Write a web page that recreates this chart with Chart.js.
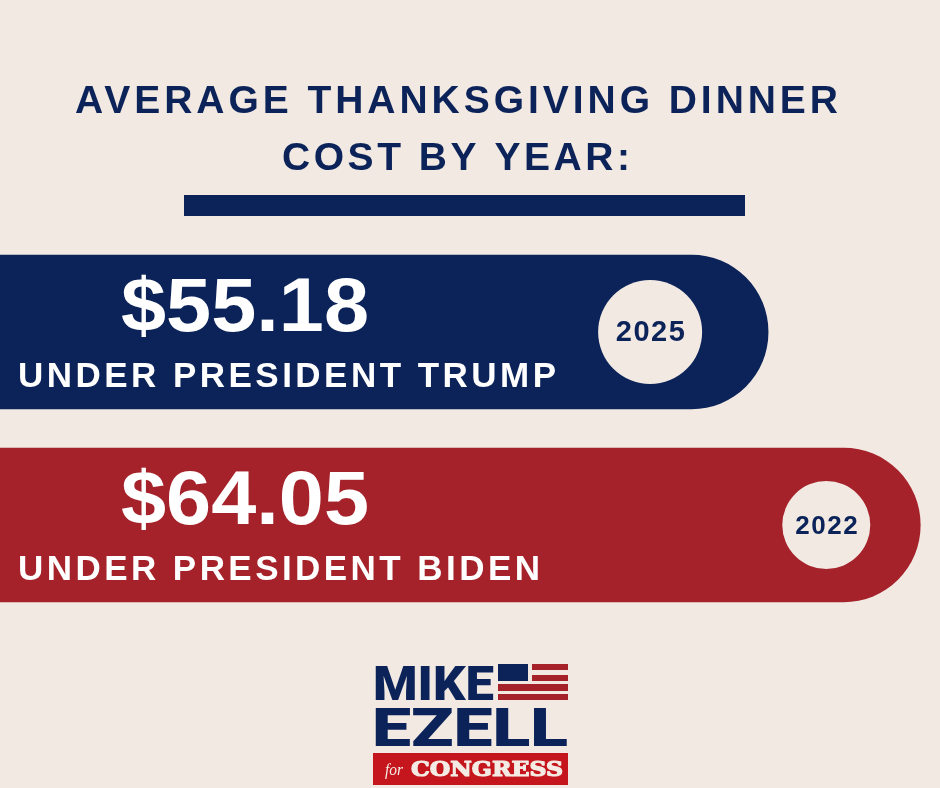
<!DOCTYPE html>
<html>
<head>
<meta charset="utf-8">
<script src="https://cdn.jsdelivr.net/npm/chart.js@4.4.1/dist/chart.umd.min.js"></script>
<style>
  html, body { margin: 0; padding: 0; background: #f1e9e2; }
  #wrap { position: relative; width: 940px; height: 788px; }
</style>
</head>
<body>
<div id="wrap"><canvas id="chart"></canvas></div>
<script>
// data
const years = ["2025", "2022"];
const costs = [55.18, 64.05];
const presidents = ["TRUMP", "BIDEN"];
const titleLines = ["AVERAGE THANKSGIVING DINNER", "COST BY YEAR:"];

// style
const NAVY = "#0c2359";
const RED = "#a6222a";
const CREAM = "#f1e9e2";
const barColors = [NAVY, RED];
const circleInset = [118, 94];
const circleRadius = [52, 44];
const yearFont = [29, 26];
const labelWidth = [538, 522];
const SANS = "'Liberation Sans', Arial, sans-serif";

// draws text with letter spacing so that it spans `width` px
function spacedText(ctx, text, x, y, size, width, color, font) {
    ctx.save();
    ctx.font = font || `bold ${size}px ${SANS}`;
    ctx.fillStyle = color;
    ctx.textAlign = "left";
    ctx.textBaseline = "alphabetic";
    if ("letterSpacing" in ctx) ctx.letterSpacing = "0px";
    const w0 = ctx.measureText(text).width;
    const sp = (width - w0) / (text.length - 1);
    if ("letterSpacing" in ctx) {
        ctx.letterSpacing = sp + "px";
        ctx.fillText(text, x, y);
    } else {
        let cx = x;
        for (const ch of text) {
            ctx.fillText(ch, cx, y);
            cx += ctx.measureText(ch).width + sp;
        }
    }
    ctx.restore();
}

// draws text stretched/squeezed horizontally to span `width` px
function stretchText(ctx, text, x, y, font, width, color, stroke) {
    ctx.save();
    ctx.font = font;
    ctx.fillStyle = color;
    ctx.textAlign = "left";
    ctx.textBaseline = "alphabetic";
    const w0 = ctx.measureText(text).width;
    ctx.translate(x, y);
    ctx.scale(width / w0, 1);
    ctx.fillText(text, 0, 0);
    if (stroke) {
        ctx.strokeStyle = color;
        ctx.lineWidth = stroke;
        ctx.lineJoin = "round";
        ctx.strokeText(text, 0, 0);
    }
    ctx.restore();
}

const headerPlugin = {
    id: "header",
    beforeDraw(chart) {
        const ctx = chart.ctx;
        ctx.save();
        ctx.fillStyle = CREAM;
        ctx.fillRect(0, 0, chart.width, chart.height);
        ctx.restore();
        spacedText(ctx, titleLines[0], 75, 113, 39, 763, NAVY);
        spacedText(ctx, titleLines[1], 282, 170, 39, 348, NAVY);
        ctx.fillStyle = NAVY;
        ctx.fillRect(184, 195, 561, 21);
    },
};

const barTextPlugin = {
    id: "barText",
    afterDatasetsDraw(chart) {
        const ctx = chart.ctx;
        const meta = chart.getDatasetMeta(0);
        meta.data.forEach((bar, i) => {
            const left = chart.chartArea.left;
            stretchText(ctx, "$" + costs[i].toFixed(2), left + 121, bar.y - 1.5,
                `bold 76px ${SANS}`, 248, "#ffffff");
            spacedText(ctx, "UNDER PRESIDENT " + presidents[i], left + 18, bar.y + 55, 35,
                labelWidth[i], "#ffffff");

            const cx = bar.x - circleInset[i];
            ctx.save();
            ctx.beginPath();
            ctx.arc(cx, bar.y, circleRadius[i], 0, Math.PI * 2);
            ctx.fillStyle = CREAM;
            ctx.fill();
            ctx.font = `bold ${yearFont[i]}px ${SANS}`;
            ctx.fillStyle = NAVY;
            ctx.textAlign = "center";
            if ("letterSpacing" in ctx) ctx.letterSpacing = "1.5px";
            ctx.fillText(years[i], cx + 1, bar.y + 9);
            ctx.restore();
        });
    },
};

const logoPlugin = {
    id: "logo",
    afterDraw(chart) {
        const ctx = chart.ctx;
        stretchText(ctx, "MIKE", 373, 700, "900 49px Roboto, 'Liberation Sans', sans-serif", 121, NAVY);
        stretchText(ctx, "EZELL", 372, 746, "900 54px Roboto, 'Liberation Sans', sans-serif", 196, NAVY);

        // flag
        ctx.fillStyle = NAVY;
        ctx.fillRect(498, 664, 30, 17);
        ctx.fillStyle = RED;
        ctx.fillRect(532, 664, 36, 6);
        ctx.fillRect(532, 675, 36, 6);
        ctx.fillRect(498, 684, 70, 7);
        ctx.fillRect(498, 694, 70, 6);

        // red box
        ctx.fillStyle = "#c4161c";
        ctx.fillRect(373, 753, 195, 32);
        stretchText(ctx, "for", 385, 775, "italic 17px 'Liberation Serif', serif", 18, "#f4ece4");
        stretchText(ctx, "CONGRESS", 411, 776, "bold 20px 'DejaVu Serif', 'Liberation Serif', serif", 152, "#f4ece4", 1.2);
    },
};

new Chart(document.getElementById("chart"), {
    type: "bar",
    data: {
        labels: years,
        datasets: [{
            data: costs,
            backgroundColor: barColors,
            barThickness: 154,
            borderSkipped: "start",
            borderRadius: { topLeft: 0, bottomLeft: 0, topRight: 77, bottomRight: 77 },
        }],
    },
    options: {
        indexAxis: "y",
        responsive: true,
        maintainAspectRatio: false,
        animation: false,
        layout: { padding: { top: 235.5, bottom: 166.5, left: 0, right: 0 } },
        plugins: {
            legend: { display: false },
            tooltip: { enabled: false },
        },
        scales: {
            x: { type: "linear", min: 10.4, max: 65.2, display: false },
            y: { type: "category", display: false },
        },
    },
    plugins: [headerPlugin, barTextPlugin, logoPlugin],
});
</script>
</body>
</html>
